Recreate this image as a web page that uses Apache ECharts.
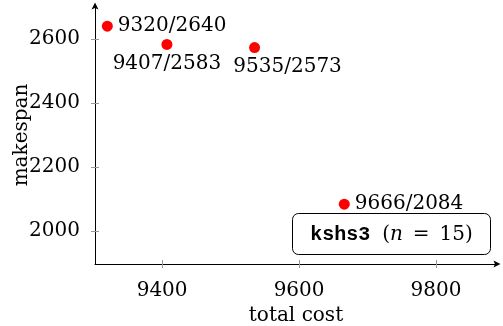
<!DOCTYPE html>
<html>
<head>
<meta charset="utf-8">
<script src="https://cdn.jsdelivr.net/npm/echarts@6/dist/echarts.min.js"></script>
<style>
  html, body { margin: 0; padding: 0; background: #fff; }
  #chart { width: 503px; height: 326px; }
</style>
</head>
<body>
<div id="chart"></div>
<script>
// Pareto points: total cost vs makespan
const totalCost = [9320, 9407, 9535, 9666];
const makespan  = [2640, 2583, 2573, 2084];
const xTicks = [9400, 9600, 9800];
const yTicks = [2000, 2200, 2400, 2600];

const serif = 'DejaVu Serif';
const mono = 'Liberation Mono';
const fontSize = 20;

// label placement per point
const labelPlacement = [
  { position: 'right', distance: 5 },
  { position: 'bottom', distance: 4 },
  { position: 'bottom', distance: 4, offset: [33, 0] },
  { position: 'right', distance: 5 }
];

const points = totalCost.map((x, i) => ({
  value: [x, makespan[i]],
  label: labelPlacement[i]
}));

const xRange = { min: 9302, max: 9889 };
const yRange = { min: 1897, max: 2703 };

const arrowPath = 'path://M0,0 L5,10 L0,8 L-5,10 Z';
const textBase = { fontFamily: serif, fontSize: fontSize, color: '#000', fontWeight: 'normal' };
const plain = v => String(v);

const chart = echarts.init(document.getElementById('chart'), null, { renderer: 'canvas' });
chart.setOption({
  animation: false,
  backgroundColor: '#fff',
  textStyle: { fontFamily: serif, color: '#000' },
  grid: { left: 95, right: 6, top: 6, bottom: 62, containLabel: false, outerBoundsMode: 'none' },
  xAxis: [
    {
      type: 'value', ...xRange,
      name: 'total cost', nameLocation: 'middle', nameGap: 42, nameMoveOverlap: false,
      nameTextStyle: textBase,
      axisLine: { show: true, lineStyle: { color: '#000', width: 1 },
                  symbol: ['none', arrowPath], symbolSize: [7, 9] },
      axisTick: { show: true, length: 4, lineStyle: { color: '#999' }, customValues: xTicks },
      axisLabel: { customValues: xTicks, margin: 17, formatter: plain, ...textBase },
      splitLine: { show: false }
    },
    {
      type: 'value', ...xRange, position: 'bottom', offset: 0,
      axisLine: { show: false },
      axisTick: { show: true, inside: true, length: 4, lineStyle: { color: '#999' }, customValues: xTicks },
      axisLabel: { show: false },
      splitLine: { show: false }
    }
  ],
  yAxis: [
    {
      type: 'value', ...yRange,
      name: 'makespan', nameLocation: 'middle', nameGap: 63, nameRotate: 90, nameMoveOverlap: false,
      nameTextStyle: textBase,
      axisLine: { show: true, lineStyle: { color: '#000', width: 1 },
                  symbol: ['none', arrowPath], symbolSize: [7, 9] },
      axisTick: { show: true, length: 4, lineStyle: { color: '#999' }, customValues: yTicks },
      axisLabel: { customValues: yTicks, margin: 15, formatter: plain, ...textBase },
      splitLine: { show: false }
    },
    {
      type: 'value', ...yRange, position: 'left', offset: 0,
      axisLine: { show: false },
      axisTick: { show: true, inside: true, length: 4, lineStyle: { color: '#999' }, customValues: yTicks },
      axisLabel: { show: false },
      splitLine: { show: false }
    }
  ],
  series: [{
    type: 'scatter',
    xAxisIndex: 0, yAxisIndex: 0,
    symbol: 'circle', symbolSize: 11,
    itemStyle: { color: '#ff0000', opacity: 1 },
    label: {
      show: true,
      ...textBase,
      formatter: p => p.value[0] + '/' + p.value[1]
    },
    data: points,
    z: 5
  }],
  graphic: [{
    type: 'group', left: 292, top: 213,
    children: [
      { type: 'rect', shape: { x: 0, y: 0, width: 198, height: 41, r: 6 },
        style: { fill: '#fff', stroke: '#000', lineWidth: 1 } },
      { type: 'text', x: 99, y: 21,
        style: {
          text: '{tt|kshs3 }({it|n}\u2002=\u200215)',
          align: 'center', verticalAlign: 'middle',
          fontFamily: serif, fontSize: fontSize, fill: '#000',
          rich: {
            tt: { fontFamily: mono, fontWeight: 'bold', fontSize: fontSize },
            it: { fontFamily: serif, fontStyle: 'italic', fontSize: fontSize }
          }
        } }
    ]
  }]
});
</script>
</body>
</html>
